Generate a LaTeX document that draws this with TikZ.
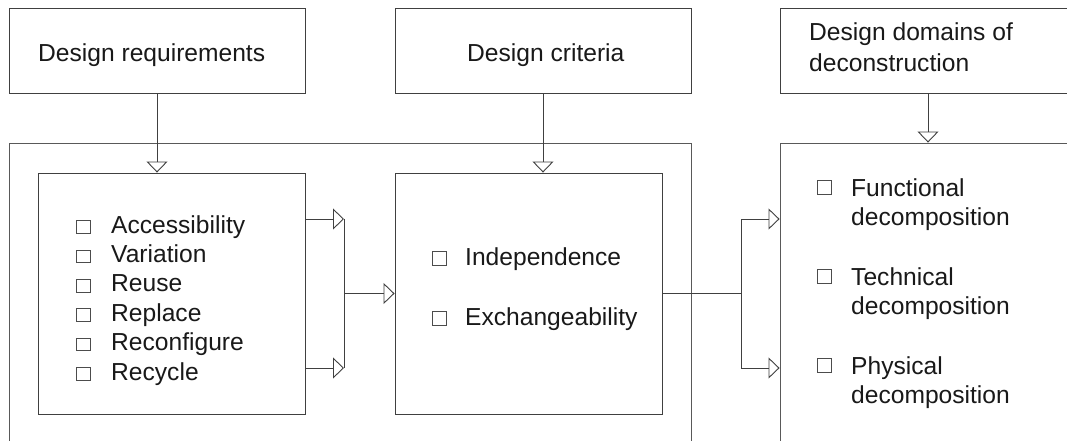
\documentclass[tikz,border=0pt]{standalone}
\usepackage{fontspec}
\setmainfont{Liberation Sans}
\usetikzlibrary{arrows.meta}
\begin{document}
\begin{tikzpicture}[x=1pt,y=-1pt,
  line/.style={draw=black!75, line width=0.9pt},
  box/.style={line, inner sep=0pt, minimum width=296pt, minimum height=85pt},
  outbox/.style={draw=black!65, line width=0.9pt, inner sep=0pt},
  inbox/.style={line, inner sep=0pt, minimum width=267pt, minimum height=241pt},
  arr/.style={line, -{Triangle[open, length=11pt, width=21pt]}},
  txt/.style={anchor=base west, inner sep=0pt, font=\fontsize{24.6}{29.5}\selectfont, text=black!90},
  chk/.style={draw=black!70, line width=0.6pt}
]
\clip (0,0) rectangle (1067,441);
\fill[white] (0,0) rectangle (1067,441);

% top boxes
\node[box] (req) at (157,50.5) {};
\node[box] (crit) at (543,50.5) {};
\node[box] (dom) at (928,50.5) {};

% outer boxes
\node[outbox, minimum width=682pt, minimum height=330pt] (outL) at (350,308) {};
\node[outbox, minimum width=296pt, minimum height=330pt] (outR) at (928,308) {};

% inner boxes
\node[inbox] (inA) at (171.5,293.5) {};
\node[inbox] (inB) at (528.5,293.5) {};

% vertical arrows
\draw[arr] (req.south) -- (req.south |- inA.north);
\draw[arr] (crit.south) -- (crit.south |- inB.north);
\draw[arr] (dom.south) -- (outR.north);

% left connectors
\coordinate (b1) at (344,219);
\coordinate (b2) at (344,368);
\coordinate (bm) at (344,293.5);
\draw[arr] (inA.east |- b1) -- (b1);
\draw[arr] (inA.east |- b2) -- (b2);
\draw[line] (b1) -- (b2);
\draw[arr] (bm) -- (inB.west);

% right connectors
\coordinate (c1) at (741,219);
\coordinate (c2) at (741,368);
\coordinate (cm) at (741,293.5);
\draw[line] (inB.east) -- (cm);
\draw[line] (c1) -- (c2);
\draw[arr] (c1) -- (outR.west |- c1);
\draw[arr] (c2) -- (outR.west |- c2);

% titles
\node[txt] (tReq) at (38,62) {Design requirements};
\node[txt] (tCrit) at (467,62) {Design criteria};
\node[txt] (tDom1) at (809,41) {Design domains of};
\node[txt] (tDom2) at (809,72) {deconstruction};

% left list
\node[txt] (a1) at (111,233) {Accessibility};
\node[txt] (a2) at (111,262.4) {Variation};
\node[txt] (a3) at (111,291.8) {Reuse};
\node[txt] (a4) at (111,321.2) {Replace};
\node[txt] (a5) at (111,350.6) {Reconfigure};
\node[txt] (a6) at (111,380) {Recycle};
\foreach \yb in {233,262.4,291.8,321.2,350.6,380}
  \draw[chk] (76,\yb-12.5) rectangle (90,\yb);

% middle list
\node[txt] (m1) at (465,265.5) {Independence};
\node[txt] (m2) at (465,325.5) {Exchangeability};
\foreach \yb in {265,325}
  \draw[chk] (432,\yb-13.5) rectangle (446,\yb);

% right list
\node[txt] (r1) at (851,196.5) {Functional};
\node[txt] (r1b) at (851,225.5) {decomposition};
\node[txt] (r2) at (851,285) {Technical};
\node[txt] (r2b) at (851,314) {decomposition};
\node[txt] (r3) at (851,374) {Physical};
\node[txt] (r3b) at (851,403) {decomposition};
\foreach \yb in {194,283,372}
  \draw[chk] (817,\yb-13.5) rectangle (831,\yb);
\end{tikzpicture}
\end{document}
